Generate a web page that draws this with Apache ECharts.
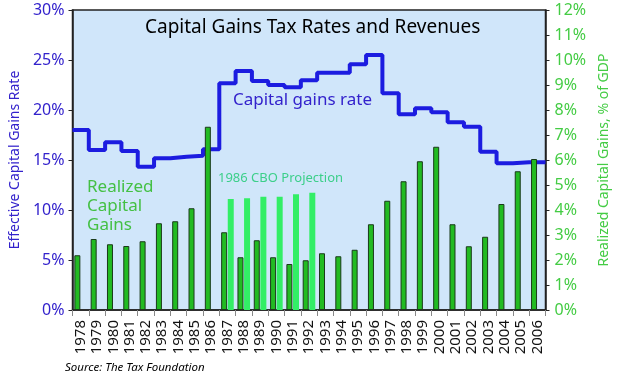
<!DOCTYPE html>
<html>
<head>
<meta charset="utf-8">
<script src="https://cdn.jsdelivr.net/npm/echarts@6/dist/echarts.min.js"></script>
<style>
html,body{margin:0;padding:0;background:#fff;}
#c{width:619px;height:383px;}
</style>
</head>
<body>
<div id="c"></div>
<script>
var years = ['1978','1979','1980','1981','1982','1983','1984','1985','1986','1987','1988','1989','1990','1991','1992','1993','1994','1995','1996','1997','1998','1999','2000','2001','2002','2003','2004','2005','2006'];
var realizedGains = [2.19,2.84,2.63,2.56,2.75,3.47,3.55,4.07,7.33,3.11,2.11,2.79,2.11,1.84,1.99,2.27,2.15,2.41,3.43,4.37,5.15,5.95,6.53,3.43,2.55,2.93,4.24,5.55,6.04];
var cboProjection = [null,null,null,null,null,null,null,null,null,4.44,4.47,4.53,4.53,4.63,4.69,null,null,null,null,null,null,null,null,null,null,null,null,null,null];
var capGainsRate = [18.0,16.0,16.77,15.9,14.33,15.17,15.33,15.43,16.07,22.67,23.9,22.9,22.5,22.27,22.97,23.73,23.73,24.57,25.5,21.67,19.57,20.17,19.77,18.77,18.33,15.83,14.67,14.77,14.77];
var leftTicks = [0,5,10,15,20,25,30];
var rightTicks = [0,1,2,3,4,5,6,7,8,9,10,11,12];

// step line points spanning each year's full category slot
var ratePoints = capGainsRate.map(function(v,i){return [i,v];});
ratePoints.push([capGainsRate.length, capGainsRate[capGainsRate.length-1]]);

var FONT = '"Noto Sans", sans-serif';
var BLUE = '#3322cc';
var GREEN = '#44cc44';

var chart = echarts.init(document.getElementById('c'), null, {renderer:'canvas'});
chart.setOption({
  animation:false,
  textStyle:{fontFamily:FONT},
  grid:{left:62,right:57,top:10,bottom:73,show:true,backgroundColor:'#d0e6fa',borderColor:'#222',borderWidth:1.5},
  xAxis:[{
    type:'category',data:years,boundaryGap:true,
    axisLine:{lineStyle:{color:'#222',width:1.5}},
    axisTick:{show:true,length:6,lineStyle:{color:'#888'}},
    axisLabel:{rotate:90,color:'#111',fontSize:15,fontFamily:FONT,margin:10,interval:0}
  },{
    type:'value',min:0,max:years.length,show:false
  }],
  yAxis:[{
    type:'value',min:leftTicks[0],max:leftTicks[leftTicks.length-1],interval:5,position:'left',
    name:'Effective Capital Gains Rate',nameLocation:'middle',nameGap:46,nameRotate:90,
    nameTextStyle:{color:BLUE,fontSize:14,fontFamily:FONT},
    axisLine:{show:true,lineStyle:{color:'#222',width:1.5}},
    axisTick:{show:true,length:4,lineStyle:{color:'#222'}},
    axisLabel:{formatter:'{value}%',color:BLUE,fontSize:16,fontFamily:FONT,margin:8},
    splitLine:{show:false}
  },{
    type:'value',min:rightTicks[0],max:rightTicks[rightTicks.length-1],interval:1,position:'right',
    name:'Realized Capital Gains, % of GDP',nameLocation:'middle',nameGap:44,nameRotate:90,
    nameTextStyle:{color:GREEN,fontSize:14,fontFamily:FONT},
    axisLine:{show:true,lineStyle:{color:'#222',width:1.5}},
    axisTick:{show:true,length:4,lineStyle:{color:'#222'}},
    axisLabel:{formatter:'{value}%',color:GREEN,fontSize:16,fontFamily:FONT,margin:9},
    splitLine:{show:false}
  }],
  series:[{
    type:'line',xAxisIndex:1,yAxisIndex:0,data:ratePoints,step:'end',
    symbol:'none',lineStyle:{color:'#1c1ce0',width:4},z:2
  },{
    type:'bar',xAxisIndex:0,yAxisIndex:1,data:realizedGains,barWidth:6,barGap:'10%',
    itemStyle:{color:'#22bb22',borderColor:'#1a3a1a',borderWidth:1},z:3
  },{
    type:'bar',xAxisIndex:0,yAxisIndex:1,data:cboProjection,barWidth:6,barGap:'10%',
    itemStyle:{color:'#33ee66'},z:3
  }],
  graphic:[
    {type:'text',left:145,top:18,style:{text:'Capital Gains Tax Rates and Revenues',fill:'#000',font:'19px '+FONT}},
    {type:'text',left:233,top:92,style:{text:'Capital gains rate',fill:BLUE,font:'17px '+FONT}},
    {type:'text',left:87,top:178,style:{text:'Realized\nCapital\nGains',fill:'#44c044',font:'17px '+FONT,lineHeight:19}},
    {type:'text',left:218,top:172,style:{text:'1986 CBO Projection',fill:'#3ccf8a',font:'13px '+FONT}},
    {type:'text',left:65,top:362,style:{text:'Source: The Tax Foundation',fill:'#000',font:'italic 11.5px '+FONT}}
  ]
});
</script>
</body>
</html>
